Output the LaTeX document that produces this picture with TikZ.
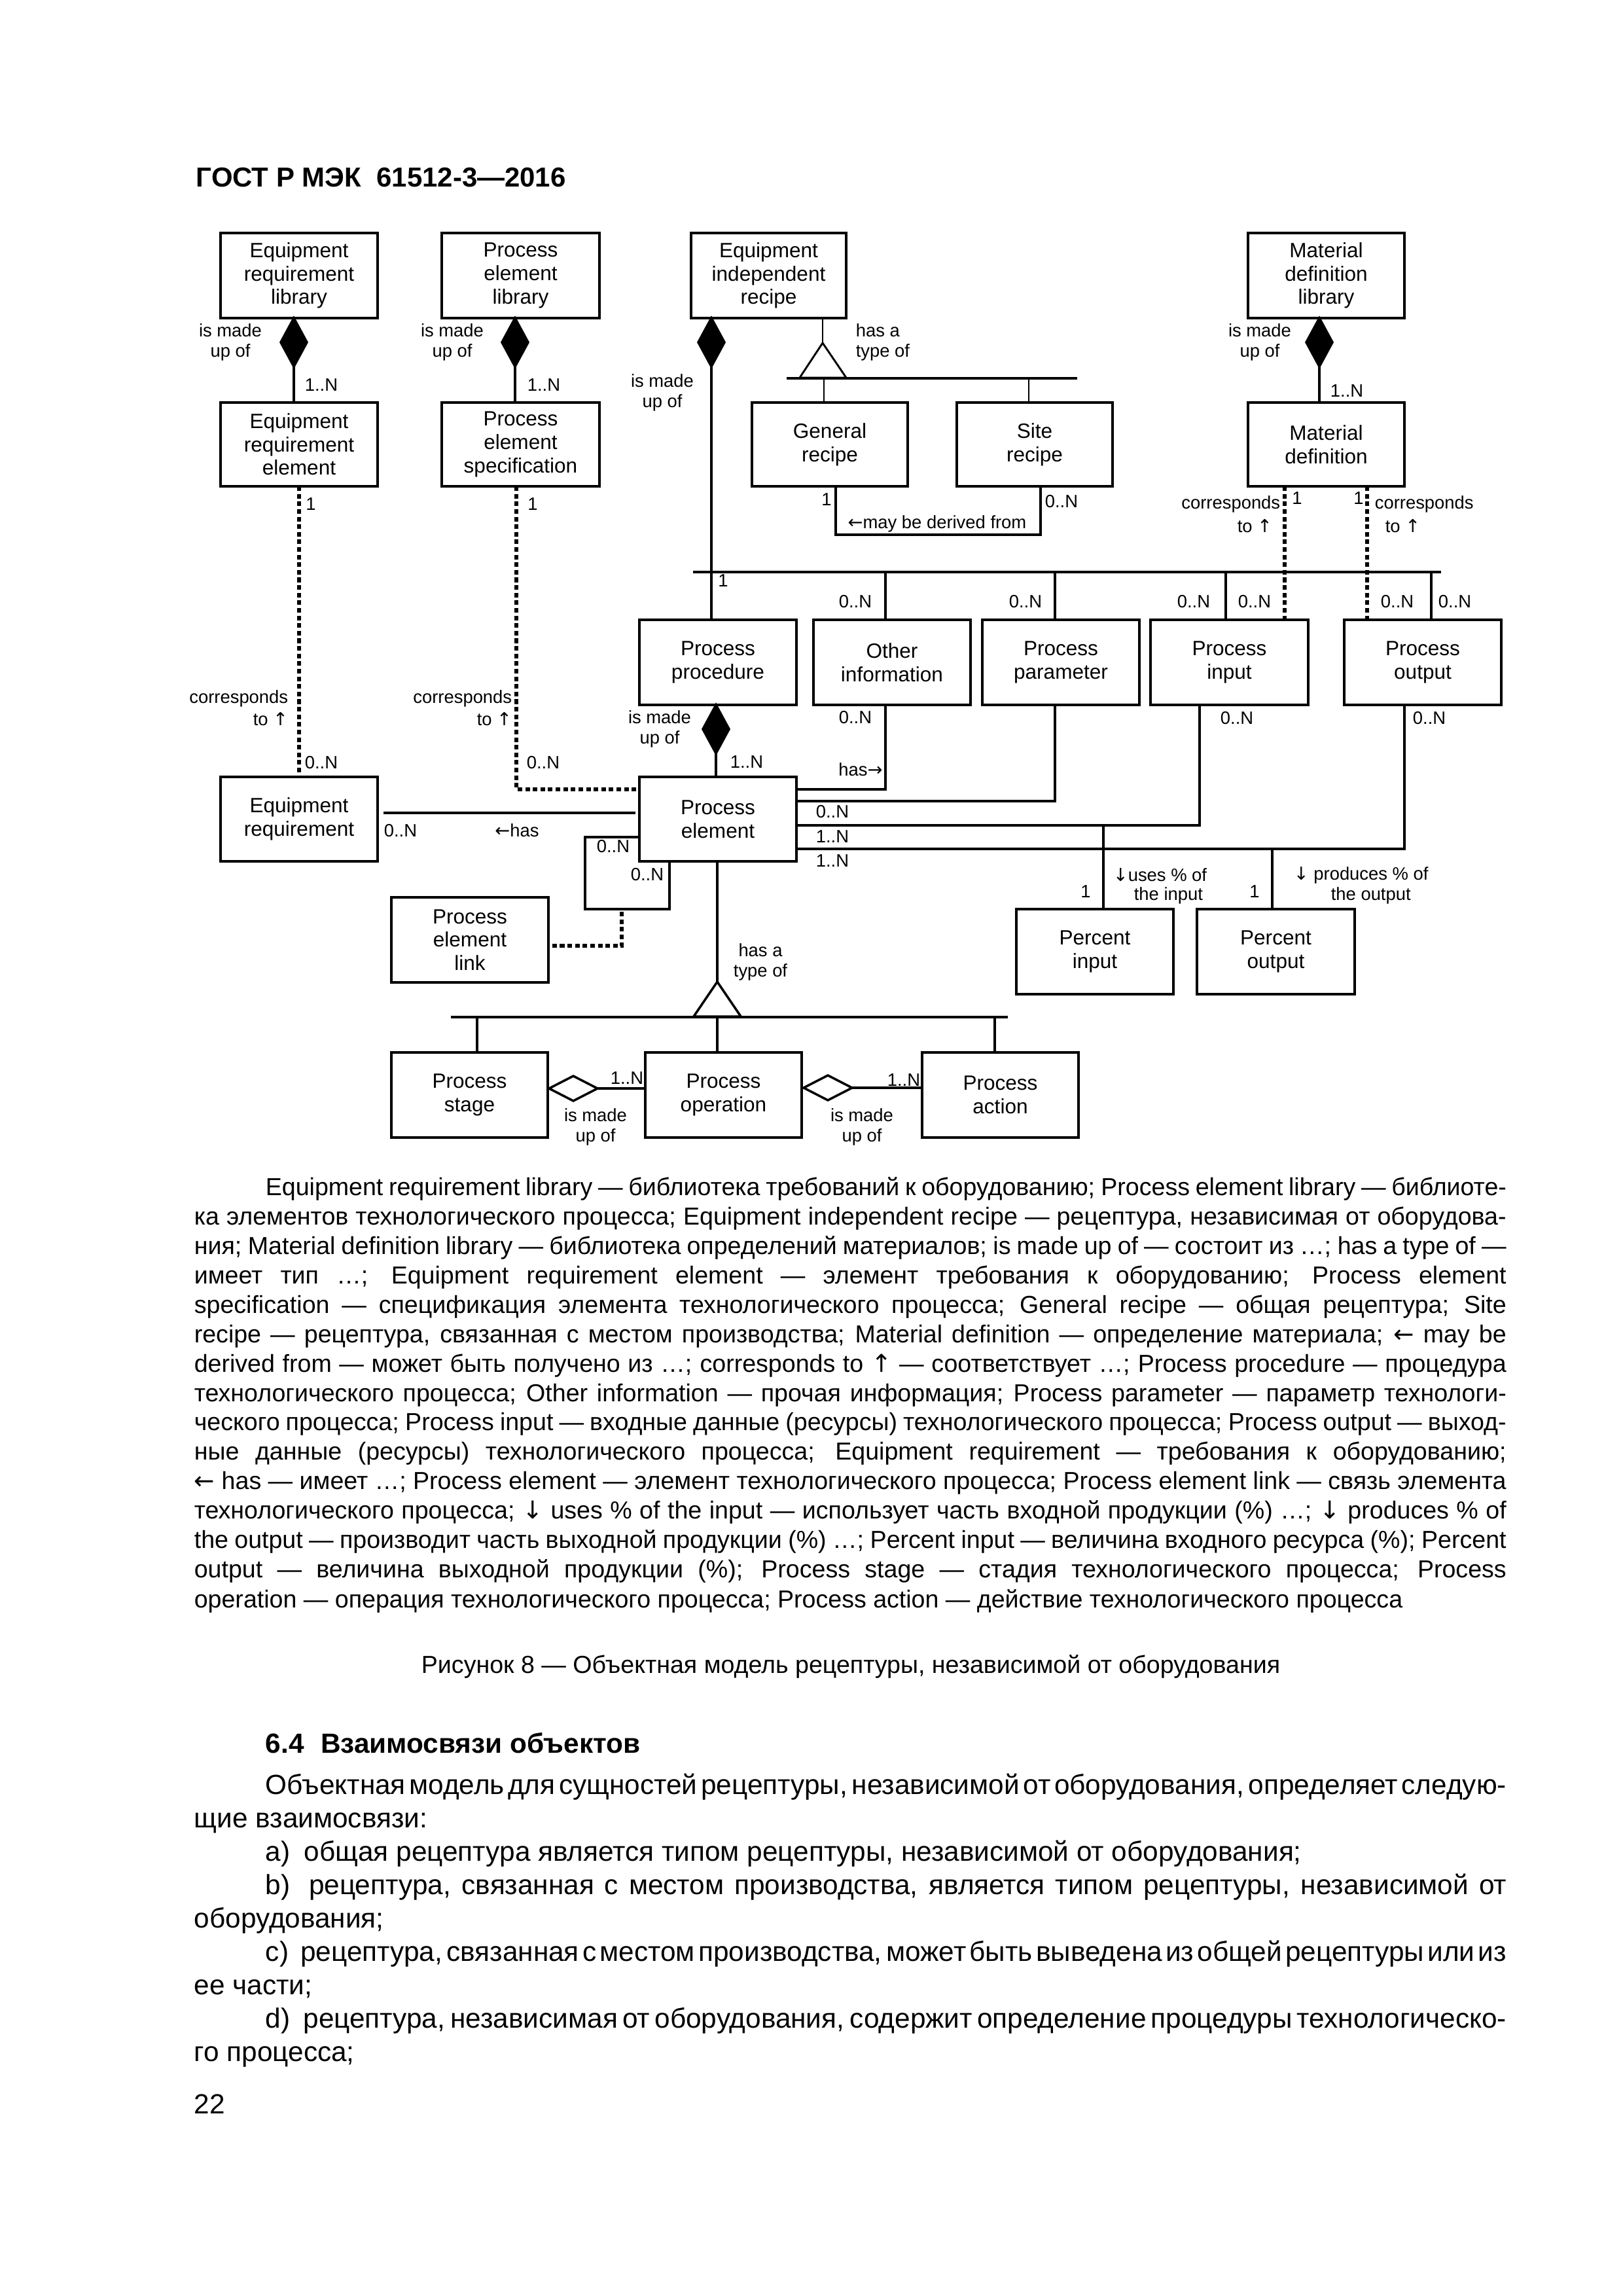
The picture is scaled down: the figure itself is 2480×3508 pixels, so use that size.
\documentclass[tikz,border=0pt]{standalone}
\usepackage{fontspec}
\setmainfont{Liberation Sans}
\newfontfamily\arr{DejaVu Sans}
\newcommand\aL{{\arr ←}}
\newcommand\aR{{\arr →}}
\newcommand\aU{{\arr ↑}}
\newcommand\aD{{\arr ↓}}
\newlength\twa \setlength\twa{483pt}
\newlength\twb \setlength\twb{456.8pt}
\newcommand\leg{\fontsize{9.05}{10.8}\selectfont}
\newcommand\paraf{\fontsize{10.2}{12.1}\selectfont}
\newcommand\js[2]{\makebox[#1][s]{\spaceskip=0.278em plus 1.5em minus 0.2em\relax #2}}
\newcommand\bx[6]{\node[box, minimum width={(#4-#2)*0.084677mm}, minimum height={(#5-#3)*0.084677mm}] (#1) at ({(#2+#4)/2},{(#3+#5)/2}) {#6};}
\newcommand\fdia[3]{\coordinate (#1) at (#2,#3); \filldraw[ln] (#1) -- ++(20,37) -- ++(-20,37) coordinate (#1b) -- ++(-20,-37) -- cycle;}
\newcommand\hdia[3]{\coordinate (#1) at (#2,#3); \filldraw[ln, fill=white] (#1) -- ++(37,-19) -- ++(37,19) coordinate (#1r) -- ++(-37,19) -- cycle;}
\newcommand\lb[5][]{\node[lbl,#1] (#2) at (#3,#4) {#5};}
\newcommand\tl[4]{\node[anchor=base west, inner sep=0pt, font=\leg] (#1) at (#2,#3) {#4};}
\newcommand\tp[4]{\node[anchor=base west, inner sep=0pt, font=\paraf] (#1) at (#2,#3) {#4};}
\begin{document}
\begin{tikzpicture}[x=0.084677mm, y=-0.084677mm,
  box/.style={draw, line width=1pt, inner sep=0pt, outer sep=0pt, align=center, font=\fontsize{7.6}{8.6}\selectfont},
  lbl/.style={inner sep=0pt, align=center, font=\fontsize{6.6}{7.5}\selectfont},
  ln/.style={line width=0.85pt},
  dl/.style={line width=1.4pt, dash pattern=on 1.7pt off 1.1pt}]
\fill[white] (0,0) rectangle (2480,3508);
\useasboundingbox (0,0) rectangle (2480,3508);

% header
\node[anchor=base west, inner sep=0pt, font=\bfseries\fontsize{10.1}{12}\selectfont] (hdr) at (299,285) {ГОСТ Р МЭК\hspace{0.56em}61512-3—2016};

% boxes
\bx{ERL}{337}{356}{577}{486}{Equipment\\requirement\\library}
\bx{PELIB}{675}{356}{916}{486}{Process\\element\\library}
\bx{EIR}{1056}{356}{1293}{486}{Equipment\\independent\\recipe}
\bx{MDL}{1907}{356}{2146}{486}{Material\\definition\\library}
\bx{ERE}{337}{615}{577}{743}{Equipment\\requirement\\element}
\bx{PES}{675}{615}{916}{743}{Process\\element\\specification}
\bx{GR}{1149}{615}{1387}{743}{General\\recipe}
\bx{SR}{1462}{615}{1700}{743}{Site\\recipe}
\bx{MD}{1907}{615}{2146}{743}{Material\\definition}
\bx{PP}{977}{947}{1217}{1077}{Process\\procedure}
\bx{OI}{1243}{947}{1483}{1077}{Other\\information}
\bx{PPAR}{1501}{947}{1741}{1077}{Process\\parameter}
\bx{PIN}{1758}{947}{1999}{1077}{Process\\input}
\bx{POUT}{2054}{947}{2294}{1077}{Process\\output}
\bx{ER}{337}{1187}{577}{1316}{Equipment\\requirement}
\bx{PE}{977}{1187}{1217}{1316}{Process\\element}
\bx{PEL}{598}{1371}{838}{1501}{Process\\element\\link}
\bx{PCI}{1553}{1389}{1793}{1519}{Percent\\input}
\bx{PCO}{1829}{1389}{2070}{1519}{Percent\\output}
\bx{PST}{598}{1608}{837}{1738}{Process\\stage}
\bx{POP}{986}{1608}{1225}{1738}{Process\\operation}
\bx{PAC}{1409}{1608}{1648}{1738}{Process\\action}

% compositions (filled diamonds)
\fdia{c1}{449}{486} \draw[ln] (c1b) -- (c1b |- ERE.north);
\fdia{c2}{787}{486} \draw[ln] (c2b) -- (c2b |- PES.north);
\fdia{c3}{1087}{486} \draw[ln] (c3b) -- (c3b |- PP.north);
\fdia{c4}{2016}{486} \draw[ln] (c4b) -- (c4b |- MD.north);
\fdia{c5}{1094}{1077} \draw[ln] (c5b) -- (c5b |- PE.north);

% bus under recipe
\coordinate (barL) at (1059,874); \coordinate (barR) at (2202,874);
\draw[ln] (barL) -- (barR);
\coordinate (bOI) at (1353,874); \draw[ln] (bOI) -- (bOI |- OI.north);
\coordinate (bPA) at (1612,874); \draw[ln] (bPA) -- (bPA |- PPAR.north);
\coordinate (bPI) at (1873,874); \draw[ln] (bPI) -- (bPI |- PIN.north);
\coordinate (bPO) at (2187,874); \draw[ln] (bPO) -- (bPO |- POUT.north);

% material definition corresponds
\coordinate (m1) at (1963,743); \draw[dl] (m1) -- (m1 |- PIN.north);
\coordinate (m2) at (2089,743); \draw[dl] (m2) -- (m2 |- POUT.north);

% generalisation of recipe
\coordinate (g0) at (1257,486); \coordinate (gA) at (1257,524);
\draw[line width=0.6pt] (g0) -- (gA);
\draw[line width=0.7pt] (gA) -- (1293,577) -- (1222,577) -- cycle;
\coordinate (gbL) at (1202,578); \coordinate (gbR) at (1646,578);
\draw[ln] (gbL) -- (gbR);
\coordinate (gGR) at (1259,578); \draw[line width=0.6pt] (gGR) -- (gGR |- GR.north);
\coordinate (gSR) at (1572,578); \draw[line width=0.6pt] (gSR) -- (gSR |- SR.north);

% derived from
\coordinate (dv1) at (1277,743); \coordinate (dv2) at (1590,817);
\draw[ln] (dv1) -- (dv1 |- dv2) -- (dv2) -- (dv2 |- SR.south);

% corresponds (dotted)
\coordinate (e1) at (457,743); \draw[dl] (e1) -- (e1 |- ER.north);
\coordinate (p1) at (789,743); \coordinate (p2) at (789,1206);
\draw[dl] (p1) -- (p2) -- (p2 -| PE.west);

% has (equipment requirement)
\coordinate (h1) at (586,1242);
\draw[ln, shorten <=0.75mm, shorten >=0.5mm] (ER.east |- h1) -- (PE.west |- h1);

% self association loop
\coordinate (l1) at (894,1279); \coordinate (l2) at (1023,1389);
\draw[ln] (PE.west |- l1) -- (l1) -- (l1 |- l2) -- (l2) -- (l2 |- PE.south);
\coordinate (k1) at (950,1393); \coordinate (k2) at (950,1445);
\draw[dl] (k1) -- (k2) -- (k2 -| PEL.east);

% process element right side
\coordinate (r1) at (1353,1206); \draw[ln] (PE.east |- r1) -- (r1) -- (r1 |- OI.south);
\coordinate (r2) at (1612,1224); \draw[ln] (PE.east |- r2) -- (r2) -- (r2 |- PPAR.south);
\coordinate (r3) at (1833,1261); \draw[ln] (PE.east |- r3) -- (r3) -- (r3 |- PIN.south);
\coordinate (r4) at (2146,1297); \draw[ln] (PE.east |- r4) -- (r4) -- (r4 |- POUT.south);
\coordinate (u1) at (1686,1261); \draw[ln] (u1) -- (u1 |- PCI.north);
\coordinate (u2) at (1944,1297); \draw[ln] (u2) -- (u2 |- PCO.north);

% generalisation of process element
\coordinate (tA) at (1096,1500);
\draw[ln] (PE.south -| tA) -- (tA);
\draw[ln] (tA) -- (1132,1553) -- (1060,1553) -- cycle;
\coordinate (tbL) at (689,1554); \coordinate (tbR) at (1540,1554);
\draw[line width=1pt] (tbL) -- (tbR);
\coordinate (tS) at (729,1554); \draw[ln] (tS) -- (tS |- PST.north);
\coordinate (tO) at (1096,1554); \draw[ln] (tO) -- (tO |- POP.north);
\coordinate (tC) at (1520,1554); \draw[ln] (tC) -- (tC |- PAC.north);

% aggregations (hollow diamonds)
\hdia{a1}{839}{1663} \draw[ln] (a1r) -- (a1r -| POP.west);
\hdia{a2}{1228}{1662} \draw[ln] (a2r) -- (a2r -| PAC.west);

% labels
\lb{L1}{352}{523}{is made\\up of}
\lb{L2}{491}{588}{1..N}
\lb{L3}{691}{523}{is made\\up of}
\lb{L4}{831}{588}{1..N}
\lb{L5}{1012}{600}{is made\\up of}
\lb{L6}{1925}{523}{is made\\up of}
\lb{L7}{2058}{597}{1..N}
\lb[anchor=west, align=left]{L8}{1307}{523}{has a\\type of}
\lb{L9}{1263}{763}{1}
\lb{L10}{1622}{766}{0..N}
\lb{L11}{1432}{800}{\aL may be derived from}
\lb[anchor=east]{L12}{1957}{770}{corresponds}
\lb[anchor=east]{L13}{1945}{804}{to \aU}
\lb{L14}{1982}{761}{1}
\lb{L15}{2076}{761}{1}
\lb[anchor=west]{L16}{2100}{770}{corresponds}
\lb[anchor=west]{L17}{2116}{804}{to \aU}
\lb{L18}{475}{770}{1}
\lb[anchor=east]{L19}{441}{1067}{corresponds}
\lb[anchor=east]{L20}{441}{1099}{to \aU}
\lb{L21}{491}{1165}{0..N}
\lb{L22}{814}{770}{1}
\lb[anchor=east]{L23}{783}{1067}{corresponds}
\lb[anchor=east]{L24}{783}{1099}{to \aU}
\lb{L25}{830}{1165}{0..N}
\lb{L26}{1105}{887}{1}
\lb{L27}{1307}{919}{0..N}
\lb{L28}{1567}{919}{0..N}
\lb{L29}{1824}{919}{0..N}
\lb{L30}{1917}{919}{0..N}
\lb{L31}{2135}{919}{0..N}
\lb{L32}{2223}{919}{0..N}
\lb{L33}{1008}{1114}{is made\\up of}
\lb{L34}{1141}{1164}{1..N}
\lb{L35}{612}{1269}{0..N}
\lb{L36}{790}{1269}{\aL has}
\lb{L37}{937}{1293}{0..N}
\lb{L38}{989}{1336}{0..N}
\lb{L39}{1307}{1096}{0..N}
\lb{L40}{1315}{1176}{has\aR}
\lb{L41}{1890}{1097}{0..N}
\lb{L42}{2184}{1097}{0..N}
\lb{L43}{1272}{1240}{0..N}
\lb{L44}{1272}{1278}{1..N}
\lb{L45}{1272}{1315}{1..N}
\lb{L46}{1659}{1362}{1}
\lb[anchor=west]{L47}{1700}{1337}{\aD uses \% of}
\lb[anchor=west]{L48}{1732}{1368}{the input}
\lb{L49}{1917}{1362}{1}
\lb[anchor=west]{L50}{1976}{1337}{\aD\ produces \% of}
\lb[anchor=west]{L51}{2033}{1368}{the output}
\lb{L52}{1162}{1470}{has a\\type of}
\lb{L53}{958}{1647}{1..N}
\lb{L54}{910}{1722}{is made\\up of}
\lb{L55}{1381}{1650}{1..N}
\lb{L56}{1317}{1722}{is made\\up of}

% legend
\tl{T1}{405}{1826}{\js{\twb}{Equipment requirement library — библиотека требований к оборудованию; Process element library — библиоте-}}
\tl{T2}{296}{1871}{\js{\twa}{ка элементов технологического процесса; Equipment independent recipe — рецептура, независимая от оборудова-}}
\tl{T3}{296}{1916}{\js{\twa}{ния; Material definition library — библиотека определений материалов; is made up of — состоит из …; has a type of —}}
\tl{T4}{296}{1961}{\js{\twa}{имеет тип …; Equipment requirement element — элемент требования к оборудованию; Process element}}
\tl{T5}{296}{2006}{\js{\twa}{specification — спецификация элемента технологического процесса; General recipe — общая рецептура; Site}}
\tl{T6}{296}{2051}{\js{\twa}{recipe — рецептура, связанная с местом производства; Material definition — определение материала; \aL\ may be}}
\tl{T7}{296}{2096}{\js{\twa}{derived from — может быть получено из …; corresponds to \aU\ — соответствует …; Process procedure — процедура}}
\tl{T8}{296}{2141}{\js{\twa}{технологического процесса; Other information — прочая информация; Process parameter — параметр технологи-}}
\tl{T9}{296}{2185}{\js{\twa}{ческого процесса; Process input — входные данные (ресурсы) технологического процесса; Process output — выход-}}
\tl{T10}{296}{2230}{\js{\twa}{ные данные (ресурсы) технологического процесса; Equipment requirement — требования к оборудованию;}}
\tl{T11}{296}{2275}{\js{\twa}{\aL\ has — имеет …; Process element — элемент технологического процесса; Process element link — связь элемента}}
\tl{T12}{296}{2320}{\js{\twa}{технологического процесса; \aD\ uses \% of the input — использует часть входной продукции (\%) …; \aD\ produces \% of}}
\tl{T13}{296}{2365}{\js{\twa}{the output — производит часть выходной продукции (\%) …; Percent input — величина входного ресурса (\%); Percent}}
\tl{T14}{296}{2410}{\js{\twa}{output — величина выходной продукции (\%); Process stage — стадия технологического процесса; Process}}
\tl{T15}{296}{2456}{operation — операция технологического процесса; Process action — действие технологического процесса}

% caption
\node[anchor=base, inner sep=0pt, font=\leg] (CAP) at (1300,2556) {Рисунок 8 — Объектная модель рецептуры, независимой от оборудования};

% section
\node[anchor=base west, inner sep=0pt, font=\bfseries\fontsize{10.2}{12.1}\selectfont] (SEC) at (405,2678) {6.4\hspace{0.6em}Взаимосвязи объектов};
\tp{P1}{405}{2741}{\js{\twb}{Объектная модель для сущностей рецептуры, независимой от оборудования, определяет следую-}}
\tp{P2}{296}{2792}{щие взаимосвязи:}
\tp{P3}{405}{2843}{a)\hspace{0.5em}общая рецептура является типом рецептуры, независимой от оборудования;}
\tp{P4}{405}{2894}{\js{\twb}{b)\hspace{0.3em} рецептура, связанная с местом производства, является типом рецептуры, независимой от}}
\tp{P5}{296}{2945}{оборудования;}
\tp{P6}{405}{2996}{\js{\twb}{c)\hspace{0.3em} рецептура, связанная с местом производства, может быть выведена из общей рецептуры или из}}
\tp{P7}{296}{3047}{ее части;}
\tp{P8}{405}{3098}{\js{\twb}{d)\hspace{0.3em} рецептура, независимая от оборудования, содержит определение процедуры технологическо-}}
\tp{P9}{296}{3149}{го процесса;}
\tp{PG}{296}{3229}{22}
\end{tikzpicture}
\end{document}
